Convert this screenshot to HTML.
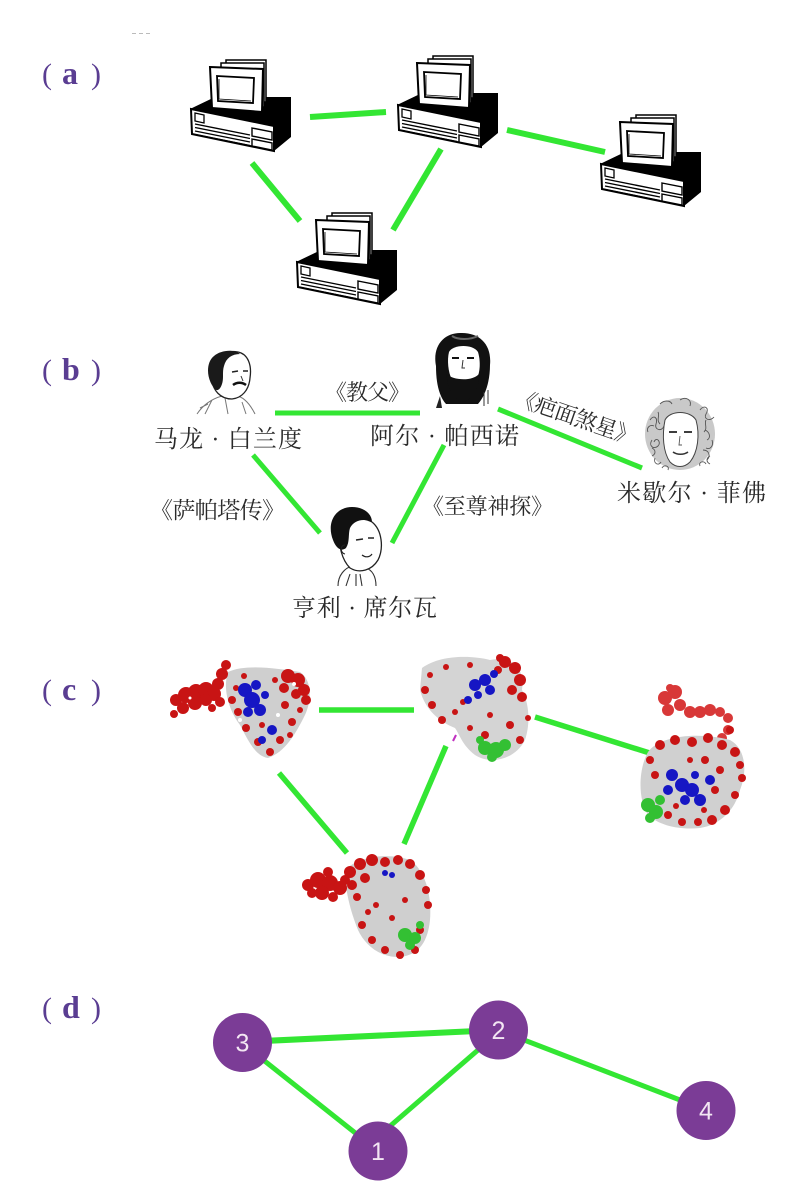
<!DOCTYPE html>
<html>
<head>
<meta charset="utf-8">
<style>
  html,body{margin:0;padding:0;background:#fff;}
  body{width:802px;height:1200px;overflow:hidden;}
  svg{display:block;}
  .lbl{font-family:"Liberation Serif","Noto Serif CJK SC",serif;fill:#5a3d92;}
  .cn{font-family:"Liberation Serif","Noto Serif CJK SC",serif;fill:#2a2a2a;}
  .num{font-family:"Liberation Sans",sans-serif;fill:#f3e6f3;font-size:25px;}
</style>
</head>
<body>
<svg width="802" height="1200" viewBox="0 0 802 1200" xmlns="http://www.w3.org/2000/svg">
  <defs>
    <g id="pc">
      <!-- base -->
      <polygon points="0,49 25,37 101,37 101,77 84,91 84,66" fill="#000"/>
      <polygon points="1,49 84,66 84,91 2,74" fill="#fff" stroke="#000" stroke-width="2"/>
      <polygon points="5,53 14,55 14,63 5,61" fill="#fff" stroke="#000" stroke-width="1.3"/>
      <g stroke="#000" stroke-width="1.4">
        <line x1="5" y1="64" x2="60" y2="75"/>
        <line x1="5" y1="67.5" x2="60" y2="78.5"/>
        <line x1="5" y1="71" x2="60" y2="82"/>
        <line x1="5" y1="74.5" x2="60" y2="85.5"/>
      </g>
      <polygon points="62,68 82,72 82,80 62,76" fill="#fff" stroke="#000" stroke-width="1.4"/>
      <polygon points="62,79 82,83 82,90 62,86" fill="#fff" stroke="#000" stroke-width="1.4"/>
      <!-- monitor -->
      <rect x="36" y="0" width="40" height="42" fill="#fff" stroke="#000" stroke-width="1.5"/>
      <rect x="31" y="3" width="43" height="44" fill="#fff" stroke="#000" stroke-width="1.5"/>
      <polygon points="20,7 73,9 72,52 22,48" fill="#fff" stroke="#000" stroke-width="2"/>
      <polygon points="27,16 64,18 63,43 28,41" fill="#fff" stroke="#000" stroke-width="1.8"/>
      <polyline points="29,19 29,39 61,41" fill="none" stroke="#000" stroke-width="0.8"/>
    </g>
  </defs>

  <!-- tiny artifact -->
  <g fill="#bbb"><rect x="132" y="33" width="4" height="1"/><rect x="139" y="33" width="4" height="1"/><rect x="146" y="33" width="4" height="1"/></g>

  <!-- ===== (a) ===== -->
  <text class="lbl" x="42" y="84" font-size="30">(</text>
  <text class="lbl" x="62" y="84" font-size="32" font-weight="bold">a</text>
  <text class="lbl" x="91" y="84" font-size="30">)</text>

  <g stroke="#33e633" stroke-width="6" stroke-linecap="butt">
    <line x1="310" y1="117" x2="386" y2="112"/>
    <line x1="507" y1="130" x2="605" y2="152"/>
    <line x1="252" y1="163" x2="300" y2="221"/>
    <line x1="441" y1="149" x2="393" y2="230"/>
  </g>
  <use href="#pc" x="190" y="60"/>
  <use href="#pc" x="397" y="56"/>
  <use href="#pc" x="600" y="115"/>
  <use href="#pc" x="296" y="213"/>

  <!-- ===== (b) ===== -->
  <text class="lbl" x="42" y="380" font-size="30">(</text>
  <text class="lbl" x="62" y="380" font-size="32" font-weight="bold">b</text>
  <text class="lbl" x="91" y="380" font-size="30">)</text>

  <g stroke="#33e633" stroke-width="5">
    <line x1="275" y1="413" x2="420" y2="413"/>
    <line x1="498" y1="409" x2="642" y2="468"/>
    <line x1="253" y1="455" x2="320" y2="533"/>
    <line x1="444" y1="445" x2="392" y2="543"/>
  </g>

  <!-- Brando -->
  <g>
    <path d="M197,414 C205,402 215,398 222,396 M255,414 C250,404 244,398 238,396 M205,414 L212,400 M246,414 L242,402 M200,408 L208,404 M225,398 L228,414" stroke="#777" stroke-width="1" fill="none"/>
    <path d="M212,370 C212,356 225,350 238,352 C248,354 252,365 250,378 C249,390 242,398 232,399 C220,399 213,390 212,380 Z" fill="#fff" stroke="#222" stroke-width="1.3"/>
    <path d="M214,388 C206,378 206,362 214,356 C221,350 234,349 240,354 C232,354 226,358 224,366 C222,372 224,378 222,384 C220,390 217,392 214,388 Z" fill="#1a1a1a"/>
    <path d="M232,372 l6,-1 M243,371 l5,0" stroke="#222" stroke-width="1.5"/>
    <path d="M233,385 C237,382 242,382 246,385" stroke="#111" stroke-width="2.5" fill="none"/>
    <path d="M241,376 l2,5" stroke="#333" stroke-width="1"/>
  </g>
  <!-- Pacino -->
  <g>
    <path d="M436,366 C432,345 445,332 462,333 C480,333 492,345 490,365 C490,380 486,395 478,404 L446,404 C438,395 436,380 436,366 Z" fill="#111"/>
    <path d="M449,352 C452,345 472,343 478,352 C481,362 480,374 476,380 L452,380 C448,372 447,360 449,352 Z" fill="#fff"/>
    <path d="M452,358 l7,0 M467,358 l7,0" stroke="#111" stroke-width="2"/>
    <path d="M463,360 l-1,8 l3,0" stroke="#333" stroke-width="1" fill="none"/>
    <path d="M447,374 C452,380 472,382 479,374 C480,388 472,400 463,402 C454,400 446,388 447,374 Z" fill="#111"/>
    <path d="M458,376 C461,378 465,378 468,376" stroke="#fff" stroke-width="1" fill="none"/>
    <path d="M452,336 C458,340 470,340 478,336" stroke="#666" stroke-width="2" fill="none"/>
    <path d="M440,396 L436,408 L442,408 Z" fill="#222"/>
    <path d="M484,392 l0,14 M488,390 l0,14" stroke="#333" stroke-width="1"/>
  </g>
  <!-- Pfeiffer -->
  <g>
    <ellipse cx="680" cy="434" rx="35" ry="36" fill="#c9c9c9"/>
    <g fill="none" stroke="#555" stroke-width="0.9">
      <path d="M650,420 c4,-6 8,-2 6,4 c-2,6 6,8 8,2 M652,440 c-4,6 2,10 6,6 c4,-4 -2,-10 -4,-4 M655,458 c-2,6 4,8 6,4 M700,410 c4,-6 10,-2 6,4 c-3,5 4,8 8,3 M705,430 c5,2 6,8 2,10 M703,450 c6,0 8,6 4,10 M660,404 c4,-4 10,-4 12,0 M680,400 c6,-4 12,0 10,6 M648,432 c-2,-4 2,-8 6,-6 M712,440 c2,6 -2,10 -6,8 M662,468 c2,-4 8,-2 6,2 M700,466 c-2,-4 4,-6 6,-2"/>
      <path d="M658,412 c2,4 -2,8 2,12 M706,420 c-2,4 2,8 -2,12 M652,448 c4,2 4,6 0,8 M710,456 c-4,2 -4,6 0,8"/>
    </g>
    <path d="M665,420 C670,410 690,410 696,420 C700,435 698,452 690,462 C684,468 676,468 670,462 C663,452 662,435 665,420 Z" fill="#fff" stroke="#444" stroke-width="1"/>
    <path d="M669,432 l8,0 M684,432 l8,0" stroke="#222" stroke-width="1.8"/>
    <path d="M680,436 l-1,9 l3,0" stroke="#555" stroke-width="0.9" fill="none"/>
    <path d="M673,452 C677,455 684,455 688,452" stroke="#333" stroke-width="1.6" fill="none"/>
  </g>
  <!-- Silva -->
  <g>
    <path d="M338,586 C338,575 345,568 352,566 M376,586 C376,576 372,570 366,568 M346,586 l4,-12 M362,586 l-2,-12 M356,574 l0,12" stroke="#333" stroke-width="1.1" fill="none"/>
    <path d="M340,532 C342,520 360,515 372,522 C382,530 384,548 378,560 C372,570 360,574 350,568 C342,560 338,545 340,532 Z" fill="#fff" stroke="#222" stroke-width="1.3"/>
    <path d="M333,540 C326,522 336,507 352,507 C364,507 372,514 372,522 C364,518 354,520 350,528 C348,534 350,542 346,548 C341,552 336,548 333,540 Z" fill="#111"/>
    <path d="M356,540 l7,-1 M368,538 l6,0" stroke="#222" stroke-width="1.6"/>
    <path d="M362,555 C366,558 370,557 372,554" stroke="#222" stroke-width="1.2" fill="none"/>
    <path d="M345,545 c-5,0 -5,8 0,9" stroke="#222" stroke-width="1.1" fill="none"/>
  </g>

  <!-- (b) text -->
  <text class="cn" x="154" y="447" font-size="24" textLength="148" lengthAdjust="spacing">马龙 · 白兰度</text>
  <text class="cn" x="370" y="444" font-size="24" textLength="149" lengthAdjust="spacing">阿尔 · 帕西诺</text>
  <text class="cn" x="325" y="400" font-size="22" textLength="85" lengthAdjust="spacing">《教父》</text>
  <text class="cn" x="617" y="501" font-size="24" textLength="149" lengthAdjust="spacing">米歇尔 · 菲佛</text>
  <g transform="translate(576,417) rotate(19)">
    <text class="cn" x="-64" y="8" font-size="22" textLength="128" lengthAdjust="spacing">《疤面煞星》</text>
  </g>
  <text class="cn" x="150" y="518" font-size="23" textLength="135" lengthAdjust="spacing">《萨帕塔传》</text>
  <text class="cn" x="422" y="514" font-size="22" textLength="131" lengthAdjust="spacing">《至尊神探》</text>
  <text class="cn" x="292" y="616" font-size="24" textLength="145" lengthAdjust="spacing">亨利 · 席尔瓦</text>

  <!-- ===== (c) ===== -->
  <text class="lbl" x="42" y="700" font-size="30">(</text>
  <text class="lbl" x="62" y="700" font-size="32" font-weight="bold">c</text>
  <text class="lbl" x="91" y="700" font-size="30">)</text>

  <g stroke="#33e633" stroke-width="5.5">
    <line x1="319" y1="710" x2="414" y2="710"/>
    <line x1="535" y1="717" x2="656" y2="755"/>
    <line x1="279" y1="773" x2="347" y2="853"/>
    <line x1="446" y1="746" x2="404" y2="844"/>
  </g>

  <!-- Protein 1 -->
  <g>
    <path d="M228,672 C245,664 275,668 300,672 C312,680 312,700 305,715 C295,735 285,752 268,758 C255,756 248,740 240,725 C230,712 222,690 228,672 Z" fill="#cfcfcf"/>
    <g fill="#c81414">
      <circle cx="176" cy="700" r="6"/><circle cx="186" cy="695" r="8"/><circle cx="196" cy="692" r="8"/><circle cx="206" cy="690" r="8"/>
      <circle cx="214" cy="694" r="7"/><circle cx="183" cy="708" r="6"/><circle cx="195" cy="703" r="7"/><circle cx="206" cy="700" r="6"/>
      <circle cx="174" cy="714" r="4"/><circle cx="218" cy="684" r="6"/><circle cx="222" cy="674" r="6"/><circle cx="226" cy="665" r="5"/>
      <circle cx="220" cy="702" r="5"/><circle cx="212" cy="708" r="4"/>
      <circle cx="288" cy="676" r="7"/><circle cx="298" cy="680" r="7"/><circle cx="304" cy="690" r="6"/><circle cx="296" cy="694" r="5"/>
      <circle cx="284" cy="688" r="5"/><circle cx="306" cy="700" r="5"/>
      <circle cx="232" cy="700" r="4"/><circle cx="238" cy="712" r="4"/><circle cx="246" cy="728" r="4"/><circle cx="258" cy="742" r="4"/>
      <circle cx="270" cy="752" r="4"/><circle cx="280" cy="740" r="4"/><circle cx="292" cy="722" r="4"/><circle cx="300" cy="710" r="3"/>
      <circle cx="285" cy="705" r="4"/><circle cx="244" cy="676" r="3"/><circle cx="275" cy="680" r="3"/><circle cx="236" cy="688" r="3"/>
      <circle cx="262" cy="725" r="3"/><circle cx="290" cy="735" r="3"/>
    </g>
    <g fill="#1616c4">
      <circle cx="245" cy="690" r="7"/><circle cx="252" cy="700" r="8"/><circle cx="260" cy="710" r="6"/><circle cx="248" cy="712" r="5"/>
      <circle cx="265" cy="695" r="4"/><circle cx="272" cy="730" r="5"/><circle cx="262" cy="740" r="4"/><circle cx="256" cy="685" r="5"/>
    </g>
    <g fill="#fff"><circle cx="240" cy="720" r="2"/><circle cx="278" cy="715" r="2"/><circle cx="294" cy="684" r="2"/><circle cx="190" cy="698" r="1.5"/></g>
  </g>

  <!-- Protein 2 -->
  <g>
    <path d="M422,668 C440,655 470,655 490,660 C510,656 525,665 522,690 C530,705 530,725 525,740 C515,760 490,765 475,755 C462,745 460,735 455,728 C440,722 425,710 420,690 Z" fill="#d4d4d4"/>
    <g fill="#c81414">
      <circle cx="505" cy="662" r="6"/><circle cx="515" cy="668" r="6"/><circle cx="520" cy="680" r="6"/><circle cx="512" cy="690" r="5"/>
      <circle cx="522" cy="697" r="5"/><circle cx="498" cy="670" r="4"/><circle cx="500" cy="658" r="4"/>
      <circle cx="425" cy="690" r="4"/><circle cx="432" cy="705" r="4"/><circle cx="442" cy="720" r="4"/><circle cx="455" cy="712" r="3"/>
      <circle cx="470" cy="728" r="3"/><circle cx="485" cy="735" r="4"/><circle cx="510" cy="725" r="4"/><circle cx="520" cy="740" r="4"/>
      <circle cx="528" cy="718" r="3"/><circle cx="446" cy="667" r="3"/><circle cx="430" cy="675" r="3"/><circle cx="470" cy="665" r="3"/>
      <circle cx="490" cy="715" r="3"/><circle cx="463" cy="702" r="3"/>
    </g>
    <g fill="#1616c4">
      <circle cx="475" cy="685" r="6"/><circle cx="485" cy="680" r="6"/><circle cx="490" cy="690" r="5"/><circle cx="478" cy="695" r="4"/>
      <circle cx="468" cy="700" r="4"/><circle cx="494" cy="674" r="4"/>
    </g>
    <g fill="#33c033">
      <circle cx="485" cy="748" r="7"/><circle cx="496" cy="750" r="8"/><circle cx="505" cy="745" r="6"/><circle cx="492" cy="757" r="5"/><circle cx="480" cy="740" r="4"/>
    </g>
    <line x1="453" y1="741" x2="456" y2="735" stroke="#c030c0" stroke-width="2"/>
  </g>

  <!-- Protein 3 -->
  <g>
    <g fill="#d83838">
      <circle cx="665" cy="698" r="7"/><circle cx="675" cy="692" r="7"/><circle cx="668" cy="710" r="6"/><circle cx="680" cy="705" r="6"/>
      <circle cx="690" cy="712" r="6"/><circle cx="700" cy="712" r="6"/><circle cx="710" cy="710" r="6"/><circle cx="720" cy="712" r="5"/>
      <circle cx="728" cy="718" r="5"/><circle cx="728" cy="730" r="5"/><circle cx="722" cy="738" r="5"/><circle cx="670" cy="688" r="4"/>
    </g>
    <path d="M648,752 C660,735 700,732 730,740 C745,748 748,770 740,790 C735,810 720,825 700,828 C680,830 660,826 648,815 C638,800 638,770 648,752 Z" fill="#d0d0d0"/>
    <g fill="#c81414">
      <circle cx="660" cy="745" r="5"/><circle cx="675" cy="740" r="5"/><circle cx="692" cy="742" r="5"/><circle cx="708" cy="738" r="5"/>
      <circle cx="722" cy="745" r="5"/><circle cx="735" cy="752" r="5"/><circle cx="740" cy="765" r="4"/><circle cx="742" cy="778" r="4"/>
      <circle cx="735" cy="795" r="4"/><circle cx="725" cy="810" r="5"/><circle cx="712" cy="820" r="5"/><circle cx="698" cy="822" r="4"/>
      <circle cx="682" cy="822" r="4"/><circle cx="668" cy="815" r="4"/><circle cx="650" cy="760" r="4"/><circle cx="655" cy="775" r="4"/>
      <circle cx="705" cy="760" r="4"/><circle cx="720" cy="770" r="4"/><circle cx="715" cy="790" r="4"/><circle cx="690" cy="760" r="3"/>
      <circle cx="730" cy="730" r="4"/><circle cx="676" cy="806" r="3"/><circle cx="704" cy="810" r="3"/>
    </g>
    <g fill="#1616c4">
      <circle cx="672" cy="775" r="6"/><circle cx="682" cy="785" r="7"/><circle cx="692" cy="790" r="7"/><circle cx="700" cy="800" r="6"/>
      <circle cx="685" cy="800" r="5"/><circle cx="668" cy="790" r="5"/><circle cx="710" cy="780" r="5"/><circle cx="695" cy="775" r="4"/>
    </g>
    <g fill="#33c033">
      <circle cx="648" cy="805" r="7"/><circle cx="656" cy="812" r="7"/><circle cx="650" cy="818" r="5"/><circle cx="660" cy="800" r="5"/>
    </g>
  </g>

  <!-- Protein 4 -->
  <g>
    <path d="M345,870 C360,855 390,853 410,860 C425,870 432,895 430,920 C428,940 420,955 400,957 C380,958 365,945 358,930 C350,910 345,890 345,870 Z" fill="#cfcfcf"/>
    <g fill="#c81414">
      <circle cx="308" cy="885" r="6"/><circle cx="318" cy="880" r="8"/><circle cx="330" cy="883" r="8"/><circle cx="340" cy="888" r="7"/>
      <circle cx="322" cy="893" r="7"/><circle cx="333" cy="897" r="5"/><circle cx="312" cy="893" r="5"/><circle cx="328" cy="872" r="5"/>
      <circle cx="345" cy="880" r="5"/>
      <circle cx="350" cy="872" r="6"/><circle cx="360" cy="864" r="6"/><circle cx="372" cy="860" r="6"/><circle cx="385" cy="862" r="5"/>
      <circle cx="398" cy="860" r="5"/><circle cx="410" cy="864" r="5"/><circle cx="420" cy="875" r="5"/><circle cx="365" cy="878" r="5"/>
      <circle cx="352" cy="885" r="5"/><circle cx="357" cy="897" r="4"/><circle cx="426" cy="890" r="4"/><circle cx="428" cy="905" r="4"/>
      <circle cx="420" cy="930" r="4"/><circle cx="415" cy="950" r="4"/><circle cx="400" cy="955" r="4"/><circle cx="385" cy="950" r="4"/>
      <circle cx="372" cy="940" r="4"/><circle cx="362" cy="925" r="4"/><circle cx="376" cy="905" r="3"/><circle cx="392" cy="918" r="3"/>
      <circle cx="405" cy="900" r="3"/><circle cx="368" cy="912" r="3"/>
    </g>
    <g fill="#1616c4"><circle cx="385" cy="873" r="3"/><circle cx="392" cy="875" r="3"/></g>
    <g fill="#33c033">
      <circle cx="405" cy="935" r="7"/><circle cx="415" cy="938" r="6"/><circle cx="410" cy="945" r="5"/><circle cx="420" cy="925" r="4"/>
    </g>
  </g>

  <!-- ===== (d) ===== -->
  <text class="lbl" x="42" y="1018" font-size="30">(</text>
  <text class="lbl" x="62" y="1018" font-size="32" font-weight="bold">d</text>
  <text class="lbl" x="91" y="1018" font-size="30">)</text>

  <g stroke="#33e633">
    <line x1="242" y1="1042" x2="498" y2="1030" stroke-width="6"/>
    <line x1="242" y1="1043" x2="378" y2="1151" stroke-width="5"/>
    <line x1="389" y1="1127" x2="478" y2="1050" stroke-width="5"/>
    <line x1="498" y1="1030" x2="706" y2="1110" stroke-width="5"/>
  </g>
  <g fill="#7b3c96">
    <circle cx="242.5" cy="1042.5" r="29.5"/>
    <circle cx="498.5" cy="1030" r="29.5"/>
    <circle cx="378" cy="1151" r="29.5"/>
    <circle cx="706" cy="1110.5" r="29.5"/>
  </g>
  <text class="num" x="242.5" y="1051.5" text-anchor="middle">3</text>
  <text class="num" x="498.5" y="1039" text-anchor="middle">2</text>
  <text class="num" x="378" y="1160" text-anchor="middle">1</text>
  <text class="num" x="706" y="1119.5" text-anchor="middle">4</text>
</svg>
</body>
</html>
